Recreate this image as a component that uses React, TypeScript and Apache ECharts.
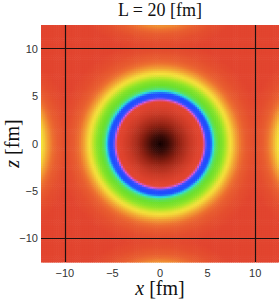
import React, { useEffect, useRef } from "react";
import * as echarts from "echarts";

// Radial profile of the plotted quantity (colour index), r in fm
const profileR = [0, 0.8, 1.6, 2.4, 3.2, 4.0, 4.45, 4.6, 4.72, 4.85, 5.0, 5.35, 5.5, 5.65, 5.85, 6.2, 6.6, 6.9, 7.2, 7.6, 8.0, 8.5, 9.0, 9.8, 11, 30];
const profileV = [11, 10.7, 10.2, 9.7, 9.3, 9.05, 9.0, 8.5, 7.8, 7.2, 7.05, 6.95, 6.4, 5.9, 5.3, 5.0, 4.6, 4.0, 3.3, 2.7, 1.9, 1.1, 0.6, 0.25, 0, 0];
// centres of the box and of its periodic neighbours (fm)
const imageCentersX = [0, 19.8, -19.8, 0, 0];
const imageCentersZ = [0, 0, 0, 20.6, -20.6];
// colour scale, low -> high
const palette = ["#e2452f", "#ec6d30", "#f2a634", "#f4e03a", "#aee628", "#6ce02c", "#2ee0e0", "#1e4cff", "#d85ce6", "#e2452f", "#8a2012", "#140202"];
const boxLines = [-10, 10];
const tickValues = [-12, -11, -10, -9, -8, -7, -6, -5, -4, -3, -2, -1, 0, 1, 2, 3, 4, 5, 6, 7, 8, 9, 10, 11, 12];
const labelValues = [-10, -5, 0, 5, 10];
const axisMin = -12.5;
const axisMax = 12.5;
const cellStep = 0.2;
const titleText = "L = 20 [fm]";

function profileAt(r: number): number {
  for (let i = 1; i < profileR.length; i++) {
    if (r <= profileR[i]) {
      const t = (r - profileR[i - 1]) / (profileR[i] - profileR[i - 1]);
      return profileV[i - 1] + t * (profileV[i] - profileV[i - 1]);
    }
  }
  return profileV[profileV.length - 1];
}

function buildCells(): number[][] {
  const out: number[][] = [];
  const n = Math.round((axisMax - axisMin) / cellStep);
  for (let i = 0; i < n; i++) {
    const x = axisMin + cellStep * (i + 0.5);
    for (let j = 0; j < n; j++) {
      const z = axisMin + cellStep * (j + 0.5);
      let v = 0;
      for (let k = 0; k < imageCentersX.length; k++) {
        const r = Math.hypot(x - imageCentersX[k], z - imageCentersZ[k]);
        v = Math.max(v, profileAt(r));
      }
      out.push([x, z, v]);
    }
  }
  return out;
}

const fmt = (v: number) => (v < 0 ? "\u2212" + Math.abs(v) : String(v));

export default function App() {
  const ref = useRef<HTMLDivElement>(null);
  useEffect(() => {
    if (!ref.current) return;
    const chart = echarts.init(ref.current, undefined, { renderer: "svg" });
    const cells = buildCells();
    const half = cellStep / 2;
    const tickCommon = {
      show: true,
      inside: true,
      length: 2,
      customValues: tickValues,
      lineStyle: { color: "#222", width: 1 },
    };
    const labelCommon = {
      customValues: labelValues,
      formatter: fmt,
      color: "#333",
      fontSize: 11,
      fontFamily: "Liberation Sans",
    };
    const serif = "Liberation Serif";
    chart.setOption({
      animation: false,
      grid: { left: 41, top: 25, width: 238, height: 237, containLabel: false, outerBoundsMode: "none" },
      visualMap: {
        show: false,
        type: "continuous",
        min: 0,
        max: 11,
        dimension: 2,
        seriesIndex: 0,
        inRange: { color: palette },
      },
      xAxis: [
        {
          type: "value",
          min: axisMin,
          max: axisMax,
          position: "bottom",
          axisLine: { show: false },
          axisTick: tickCommon,
          axisLabel: { ...labelCommon, margin: 5 },
          splitLine: { show: false },
          name: "{i|x} [fm]",
          nameLocation: "middle",
          nameGap: 16,
          nameMoveOverlap: false,
          nameTextStyle: {
            fontFamily: serif,
            fontSize: 20,
            color: "#111",
            verticalAlign: "top",
            rich: { i: { fontStyle: "italic", fontFamily: serif, fontSize: 20, color: "#111" } },
          },
        },
        {
          type: "value",
          min: axisMin,
          max: axisMax,
          position: "top",
          axisLine: { show: false },
          axisTick: tickCommon,
          axisLabel: { show: false },
          splitLine: { show: false },
        },
      ],
      yAxis: [
        {
          type: "value",
          min: axisMin,
          max: axisMax,
          position: "left",
          axisLine: { show: false },
          axisTick: tickCommon,
          axisLabel: { ...labelCommon, margin: 3 },
          splitLine: { show: false },
          name: "{i|z} [fm]",
          nameLocation: "middle",
          nameGap: 19,
          nameMoveOverlap: false,
          nameTextStyle: {
            fontFamily: serif,
            fontSize: 20,
            color: "#111",
            rich: { i: { fontStyle: "italic", fontFamily: serif, fontSize: 20, color: "#111" } },
          },
        },
        {
          type: "value",
          min: axisMin,
          max: axisMax,
          position: "right",
          axisLine: { show: false },
          axisTick: tickCommon,
          axisLabel: { show: false },
          splitLine: { show: false },
        },
      ],
      graphic: [
        {
          type: "text",
          left: 118,
          top: 1,
          style: { text: titleText, fontFamily: serif, fontSize: 18, fill: "#111" },
        },
      ],
      series: [
        {
          type: "custom",
          xAxisIndex: 0,
          yAxisIndex: 0,
          silent: true,
          progressive: 0,
          progressiveThreshold: 1000000,
          data: cells,
          encode: { x: 0, y: 1 },
          renderItem: (params: any, api: any) => {
            const x = api.value(0);
            const z = api.value(1);
            const p0 = api.coord([x - half, z + half]);
            const p1 = api.coord([x + half, z - half]);
            return {
              type: "rect",
              shape: { x: p0[0], y: p0[1], width: p1[0] - p0[0] + 0.6, height: p1[1] - p0[1] + 0.6 },
              style: { fill: api.visual("color") },
            };
          },
        },
        {
          type: "line",
          xAxisIndex: 0,
          yAxisIndex: 0,
          data: [],
          silent: true,
          markLine: {
            silent: true,
            symbol: "none",
            label: { show: false },
            lineStyle: { color: "#1a1010", width: 1.2, type: "solid" },
            data: [
              ...boxLines.map((v) => ({ xAxis: v })),
              ...boxLines.map((v) => ({ yAxis: v })),
            ],
          },
        },
      ],
    });
    return () => chart.dispose();
  }, []);
  return <div ref={ref} style={{ position: "absolute", left: 0, top: 0, width: 279, height: 301 }} />;
}
